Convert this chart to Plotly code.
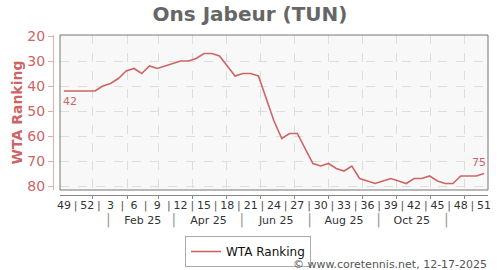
import datetime as dt
import plotly.graph_objects as go

# ---- data ----
week_index = list(range(55))  # weekly points, week 49 of 2024 .. week 51 of 2025
ranks = [42, 42, 42, 42, 42, 40, 39, 37, 34, 33, 35, 32, 33, 32, 31, 30, 30, 29, 27, 27,
         28, 32, 36, 35, 35, 36, 45, 54, 61, 59, 59, 65, 71, 72, 71, 73, 74, 72, 77, 78,
         79, 78, 77, 78, 79, 77, 77, 76, 78, 79, 79, 76, 76, 76, 75]
week_labels = ["49", "52", "3", "6", "9", "12", "15", "18", "21", "24", "27", "30",
               "33", "36", "39", "42", "45", "48", "51"]
month_labels = ["Feb 25", "Apr 25", "Jun 25", "Aug 25", "Oct 25"]
y_ticks = [20, 30, 40, 50, 60, 70, 80]

# ---- tick positions (axis positions) ----
d0 = dt.date(2024, 12, 6)
def pos(d):
    return (d - d0).days / 7.0

week_pos = [3 * i for i in range(len(week_labels))]
sep_pos = [p + 1.5 for p in week_pos[:-1]]
month_grid = [pos(dt.date(2025, m, 1)) for m in range(1, 13)]
month_lab_pos = [pos(dt.date(2025, m, 15)) for m in (2, 4, 6, 8, 10)]
month_sep_pos = [pos(dt.date(2025, m, 15)) for m in (1, 3, 5, 7, 9, 11)]

RED = "#cc6666"
XR = [-0.5, 54.5]
W, H = 500, 270
L, R, T, B = 53, 12, 35, 50
PW, PH = W - L - R, H - T - B
def py(ypix):
    return (H - B - ypix) / PH

fig = go.Figure()
fig.add_trace(go.Scatter(x=week_index, y=ranks, mode="lines", name="WTA Ranking",
                         line=dict(color=RED, width=1.6), hoverinfo="skip"))
fig.add_trace(go.Scatter(x=[None], y=[None], xaxis="x2", yaxis="y", mode="lines",
                         showlegend=False, hoverinfo="skip"))

fig.add_annotation(x=week_index[0], y=ranks[0], text=str(ranks[0]), showarrow=False,
                   xanchor="left", yanchor="top", yshift=-2, xshift=-3,
                   font=dict(family="DejaVu Sans", size=11, color=RED))
fig.add_annotation(x=week_index[-1], y=ranks[-1], text=str(ranks[-1]), showarrow=False,
                   xanchor="right", yanchor="bottom", yshift=3, xshift=4,
                   font=dict(family="DejaVu Sans", size=11, color=RED))

sep_txt = "<span style='color:#555'>|</span>"
fig.update_layout(
    width=W, height=H,
    margin=dict(l=L, r=R, t=T, b=B, pad=0, autoexpand=False),
    paper_bgcolor="white", plot_bgcolor="#f8f8f8",
    font=dict(family="DejaVu Sans", color="#333"),
    title=dict(text="<b>Ons Jabeur (TUN)</b>", x=0.5, xanchor="center", y=1 - 14 / H,
               yanchor="middle", font=dict(size=20, color="#666")),
    showlegend=True,
    legend=dict(x=(248 - L) / PW, xanchor="center", y=py(236), yanchor="top",
                orientation="h", bordercolor="#aaa", borderwidth=1,
                font=dict(size=12, color="#111"), bgcolor="white",
                itemwidth=30, tracegroupgap=0),
    xaxis=dict(domain=[(60 - L) / PW, 1], range=XR, anchor="free", position=py(195),
               showline=True, linecolor="#888", linewidth=1, zeroline=False,
               showgrid=False, ticks="",
               tickmode="array",
               tickvals=week_pos + sep_pos,
               ticktext=week_labels + [sep_txt] * len(sep_pos),
               tickfont=dict(size=11, color="#333"),
               minor=dict(tickmode="array", tickvals=month_grid, showgrid=True,
                          gridcolor="#dddddd", griddash="dash", gridwidth=1,
                          ticks="outside", ticklen=3, tickcolor="#888")),
    xaxis2=dict(domain=[(60 - L) / PW, 1], range=XR, overlaying="x", anchor="free",
                position=py(212), showline=False, showgrid=False, zeroline=False,
                side="bottom", ticks="", tickmode="array",
                tickvals=month_lab_pos + month_sep_pos,
                ticktext=month_labels + ["<span style='color:#999;font-size:14px'>|</span>"] * len(month_sep_pos),
                tickfont=dict(size=11, color="#333")),
    yaxis=dict(domain=[py(190), 1], range=[81.6, 19.6], anchor="free", position=0,
               showline=True, linecolor="#e0b0b0", linewidth=1, zeroline=False,
               tickmode="array", tickvals=y_ticks, ticks="outside", ticklen=5,
               tickcolor="#e0b0b0", tickfont=dict(size=14, color=RED),
               showgrid=True, gridcolor="#dddddd", griddash="dash",
               title=dict(text="<b>WTA Ranking</b>", font=dict(size=14, color=RED),
                          standoff=0)),
)

fig.add_shape(type="rect", xref="x domain", yref="y domain", x0=0, x1=1, y0=0, y1=1,
              line=dict(color="#777", width=1), fillcolor="rgba(0,0,0,0)", layer="above")

fig.add_annotation(xref="paper", yref="paper", x=1 + 1 / PW, y=py(264), xanchor="right",
                   yanchor="middle", showarrow=False,
                   text="© www.coretennis.net, 12-17-2025",
                   font=dict(size=11, color="#555"))

fig.write_html("out.html")
